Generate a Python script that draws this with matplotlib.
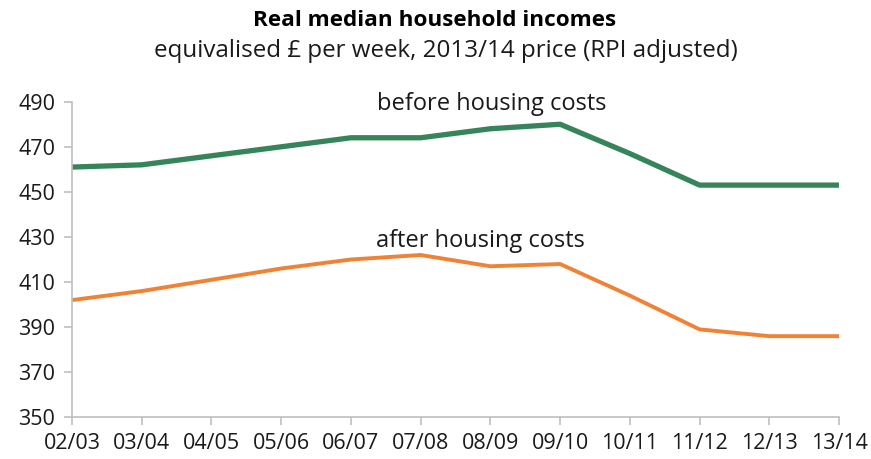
import matplotlib.pyplot as plt

years = ['02/03', '03/04', '04/05', '05/06', '06/07', '07/08',
         '08/09', '09/10', '10/11', '11/12', '12/13', '13/14']
before_hc = [461, 462, 466, 470, 474, 474, 478, 480, 467, 453, 453, 453]
after_hc = [402, 406, 411, 416, 420, 422, 417, 418, 404, 389, 386, 386]

plt.rcParams['font.family'] = ['Open Sans', 'DejaVu Sans']

fig = plt.figure(figsize=(8.71, 4.59), dpi=100)
ax = fig.add_axes([72/871, 1 - 417.3/459, (839 - 72)/871, (417.3 - 101.7)/459])

x = range(len(years))
ax.plot(x, before_hc, color='#35845A', lw=3.8, solid_capstyle='round')
ax.plot(x, after_hc, color='#F08236', lw=2.8, solid_capstyle='round')

ax.set_xlim(0, len(years) - 1)
ax.set_ylim(350, 490)
ax.set_yticks(range(350, 491, 20))
ax.set_xticks(list(x))
ax.set_xticklabels(years)

for side in ['top', 'right']:
    ax.spines[side].set_visible(False)
for side in ['left', 'bottom']:
    ax.spines[side].set_color('#BFBFBF')
    ax.spines[side].set_linewidth(1.2)
ax.tick_params(axis='both', colors='#BFBFBF', labelcolor='#1a1a1a',
               labelsize=15.5, length=6, width=1.2)
ax.tick_params(axis='y', pad=6)
ax.tick_params(axis='x', pad=5)

ax.text(6.02, 489, 'before housing costs', ha='center', va='center',
        fontsize=17, color='#1a1a1a')
ax.text(5.86, 428, 'after housing costs', ha='center', va='center',
        fontsize=17, color='#1a1a1a')

fig.text(435/871, 1 - 21/459, 'Real median household incomes', ha='center',
         va='center', fontsize=16.2, fontweight='bold', color='#000000')
fig.text(446/871, 1 - 51/459, 'equivalised £ per week, 2013/14 price (RPI adjusted)',
         ha='center', va='center', fontsize=17.4, color='#1a1a1a')

fig.savefig('out.png', dpi=100)
